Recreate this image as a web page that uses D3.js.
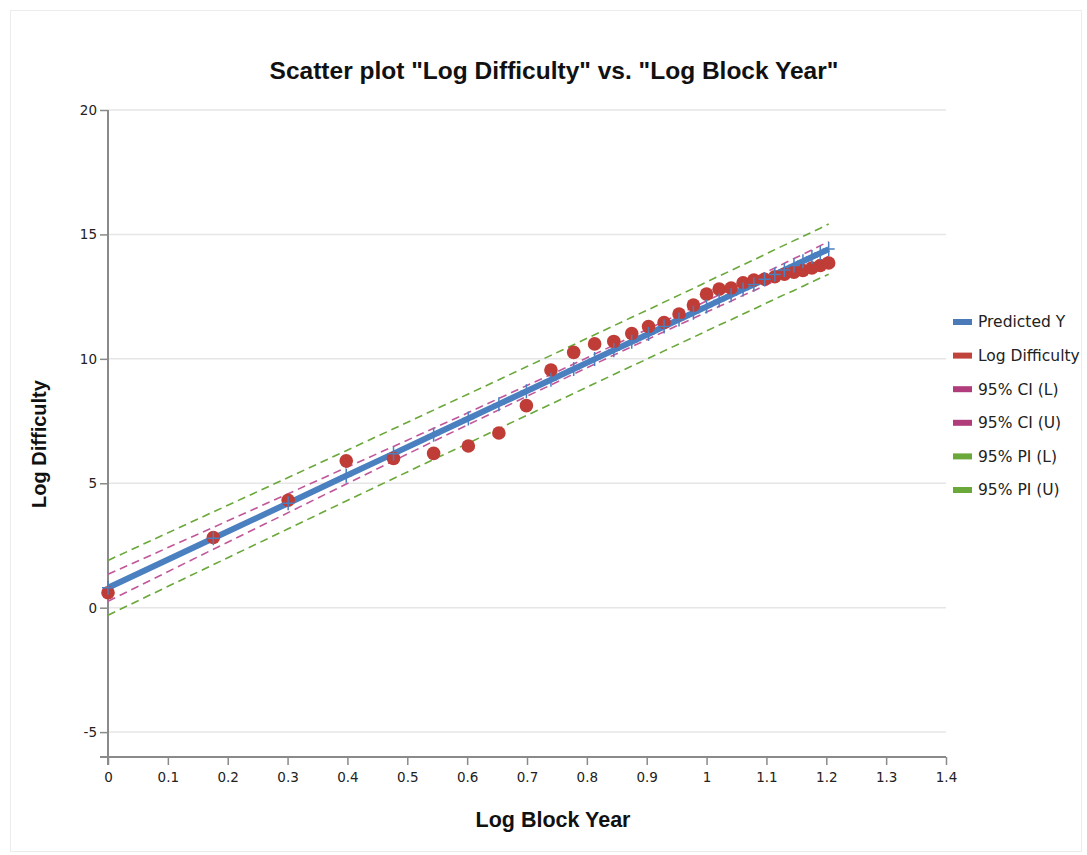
<!DOCTYPE html>
<html>
<head>
<meta charset="utf-8">
<script src="https://cdn.jsdelivr.net/npm/d3@7"></script>
<style>
  body { margin: 0; background: #fff; }
  text { font-family: "DejaVu Sans", Verdana, sans-serif; }
</style>
</head>
<body>
<div class="chart"></div>
<script>
// log block year (x) for each observation
const logYear = [0, 0.176, 0.301, 0.398, 0.477, 0.544, 0.602, 0.653, 0.699, 0.740,
  0.778, 0.813, 0.845, 0.875, 0.903, 0.929, 0.954, 0.978, 1.0, 1.021,
  1.041, 1.061, 1.079, 1.097, 1.114, 1.130, 1.146, 1.161, 1.176, 1.190, 1.204]
const logDifficulty = [0.6, 2.82, 4.32, 5.9, 6.0, 6.2, 6.5, 7.02, 8.12, 9.55,
  10.26, 10.6, 10.7, 11.02, 11.3, 11.46, 11.8, 12.16, 12.6, 12.8,
  12.84, 13.06, 13.17, 13.2, 13.3, 13.4, 13.48, 13.55, 13.65, 13.75, 13.85]
const predicted = [0.80, 2.79, 4.20, 5.30, 6.19, 6.95, 7.60, 8.18, 8.70, 9.16,
  9.59, 9.99, 10.35, 10.69, 11.00, 11.30, 11.58, 11.85, 12.10, 12.34,
  12.56, 12.79, 12.99, 13.20, 13.39, 13.57, 13.75, 13.92, 14.09, 14.25, 14.41]
const ciLower = [0.26, 2.35, 3.82, 4.97, 5.90, 6.69, 7.36, 7.95, 8.49, 8.95,
  9.39, 9.79, 10.15, 10.49, 10.80, 11.09, 11.37, 11.63, 11.88, 12.11,
  12.32, 12.55, 12.74, 12.94, 13.13, 13.30, 13.47, 13.64, 13.80, 13.96, 14.11]
const ciUpper = [1.34, 3.23, 4.58, 5.63, 6.48, 7.21, 7.84, 8.41, 8.92, 9.37,
  9.79, 10.19, 10.55, 10.89, 11.21, 11.51, 11.79, 12.07, 12.33, 12.57,
  12.80, 13.03, 13.24, 13.46, 13.65, 13.84, 14.03, 14.20, 14.38, 14.55, 14.71]
const piLower = [-0.30, 1.73, 3.17, 4.29, 5.19, 5.96, 6.61, 7.20, 7.72, 8.18,
  8.61, 9.01, 9.37, 9.71, 10.02, 10.32, 10.60, 10.87, 11.12, 11.36,
  11.57, 11.80, 12.00, 12.21, 12.40, 12.58, 12.75, 12.92, 13.09, 13.25, 13.40]
const piUpper = [1.90, 3.85, 5.23, 6.31, 7.19, 7.94, 8.59, 9.16, 9.68, 10.14,
  10.57, 10.97, 11.33, 11.67, 11.98, 12.28, 12.56, 12.83, 13.09, 13.33,
  13.55, 13.78, 13.98, 14.19, 14.39, 14.57, 14.75, 14.92, 15.09, 15.25, 15.42]

const xTicks = [0, 0.1, 0.2, 0.3, 0.4, 0.5, 0.6, 0.7, 0.8, 0.9, 1, 1.1, 1.2, 1.3, 1.4]
const yTicks = [-5, 0, 5, 10, 15, 20]
const legendLabels = ["Predicted Y", "Log Difficulty", "95% CI (L)", "95% CI (U)", "95% PI (L)", "95% PI (U)"]
const legendColors = ["#4a7ab8", "#c0443c", "#b03c7c", "#b03c7c", "#6aa83a", "#6aa83a"]

const W = 1087, H = 855
const margin = ({top: 110, right: 141, bottom: 98, left: 108})
const width = W - margin.left - margin.right
const height = H - margin.top - margin.bottom

const svg = d3.select('.chart').append('svg')
    .attr('width', W)
    .attr('height', H)

svg.append('rect')
    .attr('x', 10.5).attr('y', 10.5)
    .attr('width', W - 16).attr('height', H - 14)
    .attr('fill', 'none')
    .attr('stroke', '#ececec')

const g = svg.append('g')
    .attr('transform', `translate(${margin.left},${margin.top})`)

let x = d3.scaleLinear().domain([0, 1.4]).range([0, width])
let y = d3.scaleLinear().domain([-6, 20]).range([height, 0])

// gridlines
g.append('g').selectAll('line')
    .data(yTicks)
    .join('line')
    .attr('x1', 0).attr('x2', width)
    .attr('y1', d => y(d)).attr('y2', d => y(d))
    .attr('stroke', '#e6e6e6')
    .attr('stroke-width', 1.5)

const xAxis = d3.axisBottom(x).tickValues(xTicks).tickSize(8).tickSizeOuter(0)
    .tickFormat(d => String(d))
const yAxis = d3.axisLeft(y).tickValues(yTicks).tickSize(8).tickSizeOuter(0)
    .tickFormat(d => String(d))

const gx = g.append('g')
    .attr('transform', `translate(0,${height})`)
    .call(xAxis)
gx.select('.domain').attr('d', `M-8,0H${width}`)
const gy = g.append('g').call(yAxis)
gy.select('.domain').attr('d', `M0,${height + 8}V${y(20)}`)

g.selectAll('.domain').attr('stroke', '#8a8a8a').attr('stroke-width', 2)
g.selectAll('.tick line').attr('stroke', '#8a8a8a').attr('stroke-width', 1.5)
g.selectAll('.tick text')
    .attr('font-family', '"DejaVu Sans", Verdana, sans-serif')
    .attr('font-size', 13.5)
    .attr('fill', '#222')
gx.selectAll('.tick text').attr('dy', '1.05em')

const rows = logYear.map((d, i) => ({x: d, y: logDifficulty[i], p: predicted[i],
    cl: ciLower[i], cu: ciUpper[i], pl: piLower[i], pu: piUpper[i]}))

const lineOf = key => d3.line().x(d => x(d.x)).y(d => y(d[key]))

const dashed = [
    {key: 'pl', color: legendColors[4]},
    {key: 'pu', color: legendColors[5]},
    {key: 'cl', color: '#c0579a'},
    {key: 'cu', color: '#c0579a'}
]
dashed.forEach(s => {
    g.append('path')
        .datum(rows)
        .attr('d', lineOf(s.key))
        .attr('fill', 'none')
        .attr('stroke', s.color)
        .attr('stroke-width', 1.6)
        .attr('stroke-dasharray', '8,5')
})

g.append('path')
    .datum(rows)
    .attr('d', lineOf('p'))
    .attr('fill', 'none')
    .attr('stroke', '#4a7fc0')
    .attr('stroke-width', 6)

g.append('g').selectAll('circle')
    .data(rows)
    .join('circle')
    .attr('cx', d => x(d.x))
    .attr('cy', d => y(d.y))
    .attr('r', 6.8)
    .attr('fill', '#bf3d36')

// small crosses on the predicted line
g.append('g').selectAll('path')
    .data(rows)
    .join('path')
    .attr('transform', d => `translate(${x(d.x)},${y(d.p)})`)
    .attr('d', 'M-6,0H6M0,-7V7')
    .attr('stroke', '#4a7fc0')
    .attr('stroke-width', 1.5)

// title and axis titles
svg.append('text')
    .attr('x', 554).attr('y', 79)
    .attr('text-anchor', 'middle')
    .style('font-family', '"Liberation Sans", Arial, sans-serif')
    .style('font-weight', 'bold')
    .style('font-size', '24.5px')
    .attr('fill', '#111')
    .text('Scatter plot "Log Difficulty" vs. "Log Block Year"')

svg.append('text')
    .attr('x', 553).attr('y', 827)
    .attr('text-anchor', 'middle')
    .style('font-family', '"Liberation Sans", Arial, sans-serif')
    .style('font-weight', 'bold')
    .style('font-size', '21.5px')
    .attr('fill', '#111')
    .text('Log Block Year')

svg.append('text')
    .attr('transform', 'translate(46,444) rotate(-90)')
    .attr('text-anchor', 'middle')
    .style('font-family', '"Liberation Sans", Arial, sans-serif')
    .style('font-weight', 'bold')
    .style('font-size', '20px')
    .attr('fill', '#111')
    .text('Log Difficulty')

// legend
const legend = svg.append('g').attr('transform', 'translate(953,322)')
const item = legend.selectAll('g')
    .data(legendLabels)
    .join('g')
    .attr('transform', (d, i) => `translate(0,${i * 33.6})`)
item.append('rect')
    .attr('x', 0).attr('y', -3)
    .attr('width', 19).attr('height', 6)
    .attr('fill', (d, i) => legendColors[i])
item.append('text')
    .attr('x', 25).attr('y', 0)
    .attr('dy', '0.35em')
    .attr('font-size', 15.5)
    .attr('fill', '#222')
    .text(d => d)
</script>
</body>
</html>
